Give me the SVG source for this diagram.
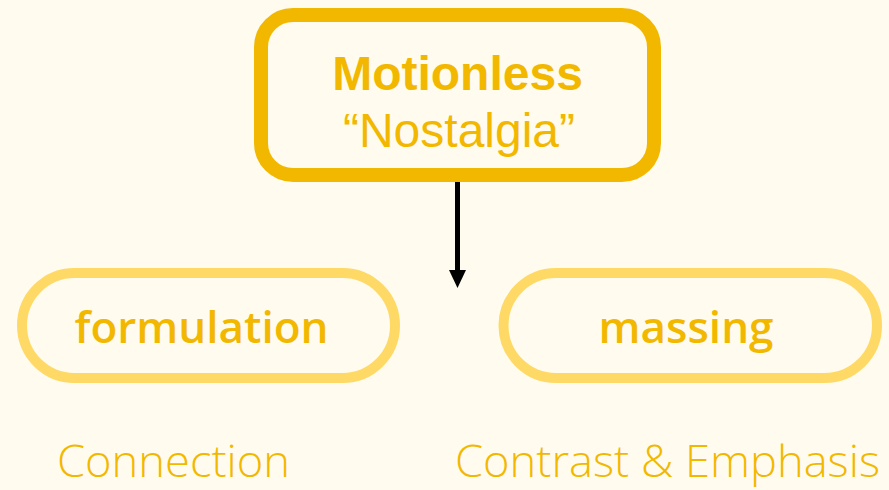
<svg xmlns="http://www.w3.org/2000/svg" width="889" height="490" viewBox="0 0 889 490">
  <style>
    .main { fill: #FFFBEE; stroke: #F2B800; stroke-width: 14; }
    .pill { fill: #FFFBEE; stroke: #FFD966; stroke-width: 10; }
    .t1 { font-family: "Liberation Sans", Arial, sans-serif; fill: #F2B800; font-size: 48px; text-anchor: middle; }
    .t2 { font-family: "Open Sans", "Noto Sans", sans-serif; font-weight: 600; fill: #F2B800; font-size: 44px; text-anchor: middle; }
    .t3 { font-family: "Open Sans", "Noto Sans", sans-serif; font-weight: 300; fill: #F2B800; font-size: 44px; }
  </style>
  <rect width="889" height="490" fill="#FFFBEE"/>
  <g id="connectors">
    <line x1="457.5" y1="182" x2="457.5" y2="272" stroke="#000" stroke-width="5"/>
    <path d="M449,270 L466,270 L457.5,288 z" fill="#000"/>
  </g>
  <g id="motionless">
    <rect class="main" x="261" y="15" width="393" height="160" rx="32"/>
    <text class="t1" x="457.5" y="90" font-weight="bold">Motionless</text>
    <text class="t1" x="459" y="147">“Nostalgia”</text>
  </g>
  <g id="formulation">
    <rect class="pill" x="22" y="273" width="373" height="105" rx="52.5"/>
    <text class="t2" x="201.5" y="343">formulation</text>
  </g>
  <g id="massing">
    <rect class="pill" x="503.5" y="273" width="373.5" height="105" rx="52.5"/>
    <text class="t2" x="686" y="343">massing</text>
  </g>
  <g id="connection">
    <text class="t3" x="57" y="477" textLength="233" lengthAdjust="spacingAndGlyphs">Connection</text>
  </g>
  <g id="contrast">
    <text class="t3" x="455" y="477" textLength="425" lengthAdjust="spacingAndGlyphs">Contrast &amp; Emphasis</text>
  </g>
</svg>
